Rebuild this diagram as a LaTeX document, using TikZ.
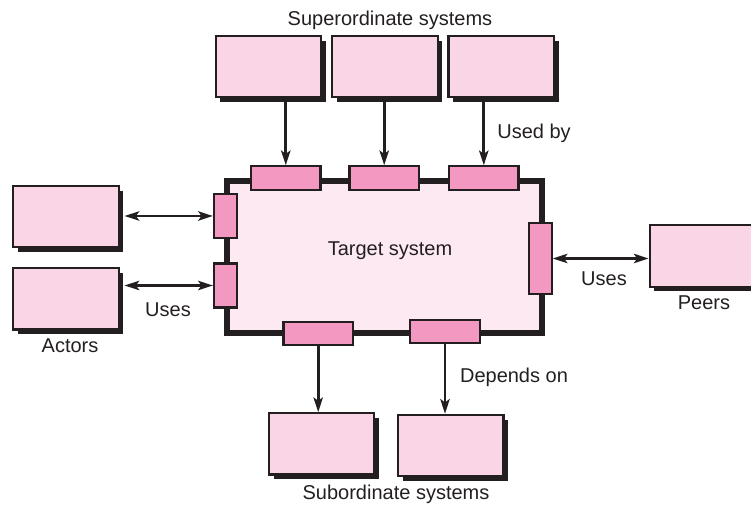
\documentclass[tikz,border=0pt]{standalone}
\usepackage{xcolor}
\usepackage{fontspec}
\setmainfont{Liberation Sans}
\usepackage{tikz}
\usetikzlibrary{arrows.meta,shadows}
\definecolor{SBox}{RGB}{249,213,230}
\definecolor{SPort}{RGB}{243,153,193}
\definecolor{STarget}{RGB}{253,233,242}
\definecolor{SInk}{RGB}{35,31,32}

\tikzset{
  sysbox/.style={
    draw=SInk, line width=1.6pt, fill=SBox,
    minimum width=79pt, minimum height=46pt, inner sep=0pt,
    drop shadow={shadow xshift=3.6pt, shadow yshift=-3.6pt, fill=SInk, opacity=1}
  },
  hport/.style={draw=SInk, line width=1.6pt, fill=SPort, minimum width=52pt, minimum height=17.5pt, inner sep=0pt},
  vport/.style={draw=SInk, line width=1.6pt, fill=SPort, minimum width=17pt, inner sep=0pt},
  lbl/.style={font=\fontsize{15}{17}\selectfont, text=SInk, inner sep=0pt, anchor=base},
  link/.style={draw=SInk, line width=2pt, -{Stealth[length=11pt,width=7pt,inset=2.5pt]}},
  dlink/.style={draw=SInk, line width=2pt, {Stealth[length=11pt,width=7pt,inset=2.5pt]}-{Stealth[length=11pt,width=7pt,inset=2.5pt]}}
}

\begin{document}
\begin{tikzpicture}[x=0.75pt, y=-0.75pt]
      \clip (0,0) rectangle (751,505);

      % target system
      \node[
        draw=SInk,
        line width=4.5pt,
        fill=STarget,
        minimum width=236pt,
        minimum height=114pt,
        inner sep=0pt
      ] (target) at (384.5,257.3) {};
      \node[lbl] (targetlbl) at (390,256) {Target system};

      % ports on the border
      \node[hport] (p1) at (285.8,178) {};
      \node[hport] (p2) at (384.2,178) {};
      \node[hport] (p3) at (483.8,178) {};
      \node[vport, minimum height=33pt] (lp1) at (225.3,216) {};
      \node[vport, minimum height=33pt] (lp2) at (225.3,285.5) {};
      \node[vport, minimum height=53pt] (rp) at (540.3,258.5) {};
      \node[hport, minimum height=17pt] (bp1) at (318.2,333.3) {};
      \node[hport, minimum height=17pt] (bp2) at (445,331.5) {};

      % surrounding systems
      \node[sysbox] (sup1) at (268.3,66.5) {};
      \node[sysbox] (sup2) at (385,66.5) {};
      \node[sysbox] (sup3) at (501.2,66.5) {};
      \node[sysbox] (act1) at (66,216.7) {};
      \node[sysbox] (act2) at (66,298.8) {};
      \node[sysbox] (peers) at (702.3,256) {};
      \node[sysbox] (sub1) at (321.7,443.9) {};
      \node[sysbox] (sub2) at (450.8,445.5) {};

      % connectors
      \draw[link] (sup1.south -| p1.north) -- (p1.north);
      \draw[link] (sup2.south -| p2.north) -- (p2.north);
      \draw[link] (sup3.south -| p3.north) -- (p3.north);
      \draw[dlink, shorten <=3.6pt] (act1.east |- lp1.west) -- (lp1.west);
      \draw[dlink, shorten <=3.6pt] (act2.east |- lp2.west) -- (lp2.west);
      \draw[dlink] (rp.east) -- (peers.west |- rp.east);
      \draw[link] (bp1.south) -- (sub1.north -| bp1.south);
      \draw[link] (bp2.south) -- (sub2.north -| bp2.south);

      % labels
      \node[lbl] (suplbl) at (390,26) {Superordinate systems};
      \node[lbl] (usedby) at (534,138.3) {Used by};
      \node[lbl] (usesl) at (168,316.7) {Uses};
      \node[lbl] (usesr) at (604,286) {Uses};
      \node[lbl] (peerslbl) at (704,310) {Peers};
      \node[lbl] (actlbl) at (70,353) {Actors};
      \node[lbl] (depends) at (514,382.7) {Depends on};
      \node[lbl] (sublbl) at (396,500) {Subordinate systems};
    \end{tikzpicture}
\end{document}
